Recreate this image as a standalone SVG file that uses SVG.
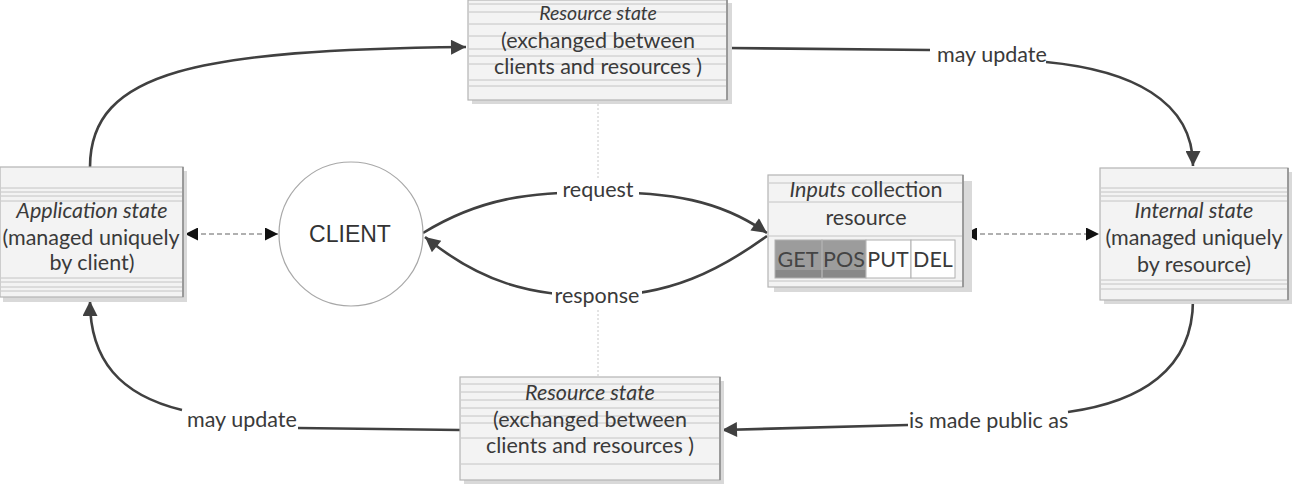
<svg xmlns="http://www.w3.org/2000/svg" width="1296" height="492" viewBox="0 0 1296 492">
<style>
.t{font-family:Lato,"Open Sans",sans-serif;font-size:21.5px;fill:#3a3a3a;text-anchor:middle}
.i{font-style:italic}
.lbl{font-family:Lato,"Open Sans",sans-serif;font-size:21.5px;fill:#3a3a3a}
.box{fill:#f3f3f3;stroke:#b4b4b4;stroke-width:1.2}
.sh{fill:#d9d9d9;stroke:none}
.hl{stroke:#c4c4c4;stroke-width:1}
.edge{stroke:#8a8a8a;stroke-width:1.5}
.con{fill:none;stroke:#404040;stroke-width:2.6}
.dash{fill:none;stroke:#b0b0b0;stroke-width:2;stroke-dasharray:5 3}
.dot{fill:none;stroke:#c8c8c8;stroke-width:1;stroke-dasharray:2 2}
.btn{stroke:#b0b0b0;stroke-width:1}
</style>
<defs>
<marker id="ah" viewBox="0 0 10 10" refX="10" refY="5" markerWidth="17" markerHeight="15" markerUnits="userSpaceOnUse" orient="auto-start-reverse">
<path d="M0,0 L10,5 L0,10 Z" fill="#404040"/>
</marker>
<marker id="ak" viewBox="0 0 10 10" refX="10" refY="5" markerWidth="14" markerHeight="13" markerUnits="userSpaceOnUse" orient="auto-start-reverse">
<path d="M0,0 L10,5 L0,10 Z" fill="#111"/>
</marker>
<linearGradient id="g" x1="0" y1="0" x2="0" y2="1">
<stop offset="0" stop-color="#f8f8f8"/>
<stop offset="1" stop-color="#ececec"/>
</linearGradient>
</defs>

<g id="connectors">
<path class="dot" d="M598,100 L598,182"/>
<path class="dot" d="M598,306 L598,377"/>
<path class="con" d="M90,167 C90,70 200,50 466,47" marker-end="url(#ah)"/>
<path class="con" d="M728,48 L930,50"/>
<path class="con" d="M1046,62 C1130,70 1193,100 1193,166" marker-end="url(#ah)"/>
<path class="con" d="M1193,300 C1193,370 1140,402 1068,412"/>
<path class="con" d="M908,425 L722,430" marker-end="url(#ah)"/>
<path class="con" d="M460,430 L298,428"/>
<path class="con" d="M182,410 C120,395 90,360 90,301" marker-end="url(#ah)"/>
<path class="con" d="M423,233 C480,198 530,192 598,192 C670,192 720,200 767,233" marker-end="url(#ah)"/>
<path class="con" d="M767,236 C720,270 670,296 598,296 C530,296 480,282 425,237" marker-end="url(#ah)"/>
<path class="dash" d="M185,234 L278,234" marker-start="url(#ak)" marker-end="url(#ak)"/>
<path class="dash" d="M964,234 L1099,234" marker-start="url(#ak)" marker-end="url(#ak)"/>
<rect x="557" y="180" width="82" height="22" fill="#fff"/>
<text class="lbl" x="598" y="197" text-anchor="middle">request</text>
<rect x="552" y="288" width="90" height="20" fill="#fff"/>
<text class="lbl" x="597" y="303" text-anchor="middle">response</text>
<text class="lbl" x="937" y="62">may update</text>
<text class="lbl" x="909" y="428">is made public as</text>
<text class="lbl" x="187" y="427">may update</text>
</g>

<g id="resource-state-top">
<rect class="sh" x="472" y="3" width="260" height="101"/>
<rect class="box" x="468" y="0" width="259" height="100" fill="url(#g)"/>
<g class="hl">
<line x1="469" y1="4" x2="726" y2="4"/><line x1="469" y1="12" x2="726" y2="12"/>
<line x1="469" y1="24" x2="726" y2="24"/><line x1="469" y1="36" x2="726" y2="36"/>
<line x1="469" y1="49" x2="726" y2="49"/><line x1="469" y1="56" x2="726" y2="56"/>
<line x1="469" y1="64" x2="726" y2="64"/><line x1="469" y1="80" x2="726" y2="80"/>
<line x1="469" y1="86" x2="726" y2="86"/>
</g>
<line class="edge" x1="727" y1="0" x2="727" y2="100"/>
<text class="t i" x="598" y="20" style="font-size:19.5px">Resource state</text>
<text class="t" x="598" y="48">(exchanged between</text>
<text class="t" x="598" y="74">clients and resources )</text>
</g>

<g id="application-state">
<rect class="sh" x="3" y="171" width="184" height="131"/>
<rect class="box" x="0" y="167" width="183" height="130" fill="url(#g)"/>
<g class="hl">
<line x1="1" y1="188" x2="182" y2="188"/><line x1="1" y1="192" x2="182" y2="192"/>
<line x1="1" y1="196" x2="182" y2="196"/><line x1="1" y1="201" x2="182" y2="201"/>
<line x1="1" y1="278" x2="182" y2="278"/><line x1="1" y1="282" x2="182" y2="282"/>
<line x1="1" y1="287" x2="182" y2="287"/><line x1="1" y1="291" x2="182" y2="291"/>
</g>
<line class="edge" x1="183" y1="167" x2="183" y2="297"/>
<text class="t i" x="92" y="218">Application state</text>
<text class="t" x="91" y="245">(managed uniquely</text>
<text class="t" x="92" y="270">by client)</text>
</g>

<g id="client">
<circle cx="351" cy="234" r="72" fill="#fff" stroke="#a8a8a8" stroke-width="1.2"/>
<text x="350" y="242" text-anchor="middle" font-family="Liberation Sans, Arial, sans-serif" font-size="23" fill="#333">CLIENT</text>
</g>

<g id="inputs-collection">
<rect class="sh" x="774" y="181" width="198" height="111"/>
<rect class="box" x="768" y="175" width="195" height="112" fill="url(#g)"/>
<g class="hl">
<line x1="769" y1="183" x2="962" y2="183"/><line x1="769" y1="202" x2="962" y2="202"/>
<line x1="769" y1="236" x2="962" y2="236"/><line x1="769" y1="281" x2="962" y2="281"/>
</g>
<line class="edge" x1="963" y1="175" x2="963" y2="287"/>
<text class="t" x="866" y="197"><tspan class="i">Inputs</tspan> collection</text>
<text class="t" x="866" y="225">resource</text>
<rect x="775" y="240" width="91" height="38" fill="#9c9c9c"/>
<rect x="775" y="270" width="91" height="8" fill="#888"/>
<rect class="btn" x="775" y="240" width="47" height="38" fill="none"/>
<rect class="btn" x="822" y="240" width="44" height="38" fill="none"/>
<rect class="btn" x="866" y="240" width="45" height="38" fill="#fff"/>
<rect class="btn" x="911" y="240" width="44" height="38" fill="#fff"/>
<text class="t" x="798" y="267" style="fill:#444">GET</text>
<text class="t" x="844" y="267" style="fill:#444">POS</text>
<text class="t" x="888" y="267">PUT</text>
<text class="t" x="933" y="267">DEL</text>
</g>

<g id="internal-state">
<rect class="sh" x="1104" y="172" width="188" height="132"/>
<rect class="box" x="1100" y="168" width="188" height="132" fill="url(#g)"/>
<g class="hl">
<line x1="1101" y1="188" x2="1287" y2="188"/><line x1="1101" y1="192" x2="1287" y2="192"/>
<line x1="1101" y1="196" x2="1287" y2="196"/><line x1="1101" y1="201" x2="1287" y2="201"/>
<line x1="1101" y1="280" x2="1287" y2="280"/><line x1="1101" y1="284" x2="1287" y2="284"/>
<line x1="1101" y1="289" x2="1287" y2="289"/>
</g>
<line class="edge" x1="1288" y1="168" x2="1288" y2="300"/>
<text class="t i" x="1194" y="218">Internal state</text>
<text class="t" x="1194" y="245">(managed uniquely</text>
<text class="t" x="1194" y="272">by resource)</text>
</g>

<g id="resource-state-bottom">
<rect class="sh" x="464" y="381" width="260" height="103"/>
<rect class="box" x="460" y="377" width="260" height="103" fill="url(#g)"/>
<g class="hl">
<line x1="461" y1="384" x2="719" y2="384"/><line x1="461" y1="392" x2="719" y2="392"/>
<line x1="461" y1="400" x2="719" y2="400"/><line x1="461" y1="408" x2="719" y2="408"/>
<line x1="461" y1="416" x2="719" y2="416"/><line x1="461" y1="423" x2="719" y2="423"/>
<line x1="461" y1="438" x2="719" y2="438"/><line x1="461" y1="464" x2="719" y2="464"/>
</g>
<line class="edge" x1="720" y1="377" x2="720" y2="480"/>
<text class="t i" x="590" y="400">Resource state</text>
<text class="t" x="590" y="427">(exchanged between</text>
<text class="t" x="590" y="453">clients and resources )</text>
</g>
</svg>
